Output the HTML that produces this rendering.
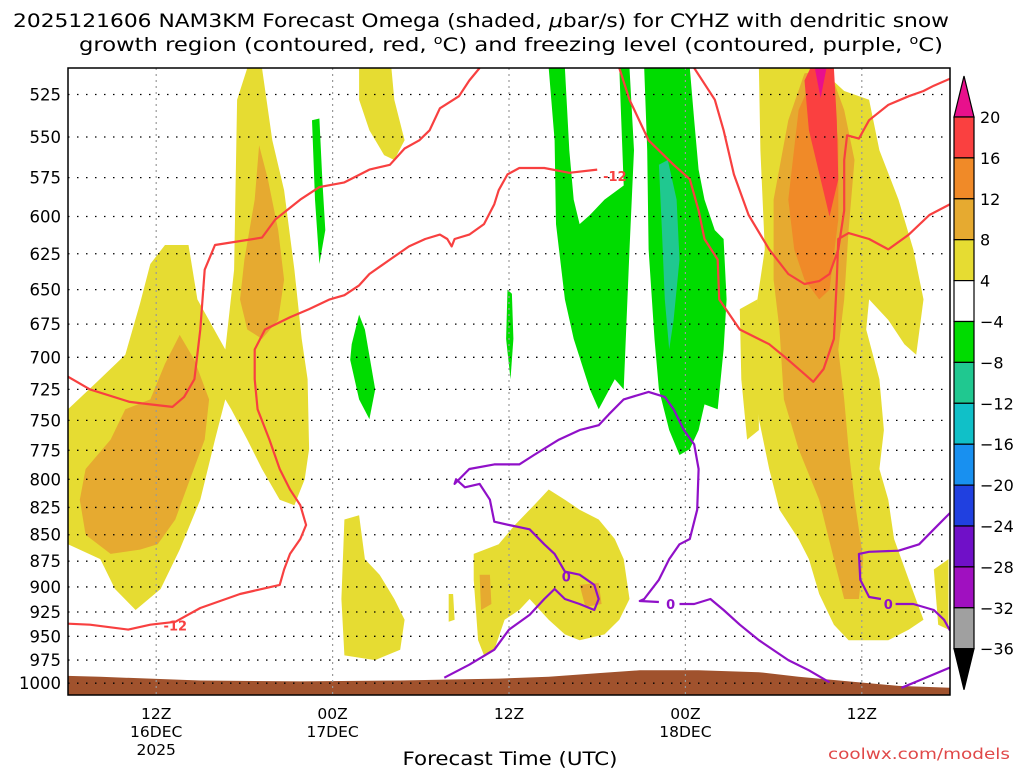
<!DOCTYPE html>
<html><head><meta charset="utf-8"><style>
html,body{margin:0;padding:0;background:#fff;}
body{width:1024px;height:768px;overflow:hidden;font-family:"DejaVu Sans","Liberation Sans",sans-serif;}
svg text{font-family:"DejaVu Sans","Liberation Sans",sans-serif;}
</style></head><body>
<svg id="chart" width="1024" height="768" xmlns="http://www.w3.org/2000/svg">
<text x="481" y="27" font-size="19" text-anchor="middle" textLength="936" lengthAdjust="spacingAndGlyphs">2025121606 NAM3KM Forecast Omega (shaded, <tspan font-style="italic">μ</tspan>bar/s) for CYHZ with dendritic snow</text>
<text x="511" y="51" font-size="19" text-anchor="middle" textLength="864" lengthAdjust="spacingAndGlyphs">growth region (contoured, red, <tspan font-size="12" dy="-7">o</tspan><tspan dy="7">C) and freezing level (contoured, purple, </tspan><tspan font-size="12" dy="-7">o</tspan><tspan dy="7">C)</tspan></text>
<defs><clipPath id="plotclip"><rect x="68" y="68" width="882" height="627"/></clipPath></defs>
<g id="fills" clip-path="url(#plotclip)"></g>
<g id="grid"></g>
<g id="contours" clip-path="url(#plotclip)"></g>
<rect x="68" y="68" width="882" height="627" fill="none" stroke="#000" stroke-width="1.5"/>
<g id="yaxis"></g>
<g id="xaxis"></g>
<text x="510" y="765" font-size="19" text-anchor="middle" textLength="215" lengthAdjust="spacingAndGlyphs">Forecast Time (UTC)</text>
<text x="1010" y="759" font-size="15" fill="#e04848" text-anchor="end" textLength="182" lengthAdjust="spacingAndGlyphs">coolwx.com/models</text>
<g id="colorbar"></g>
</svg>
<script>
// axis domain
const hourDomain = [0, 60];
const presTicks = [525,550,575,600,625,650,675,700,725,750,775,800,825,850,875,900,925,950,975,1000];
const timeTickHours = [6, 18, 30, 42, 54];
const timeTickLine1 = ['12Z','00Z','12Z','00Z','12Z'];
const timeTickLine2 = ['16DEC','17DEC','','18DEC',''];
const timeTickLine3 = ['2025','','','',''];
const cbLevels = ['20','16','12','8','4','-4','-8','-12','-16','-20','-24','-28','-32','-36'];
const cbColors = ['#fa4040','#f08a28','#e6aa30','#e6dc32','#ffffff','#00dc00','#20c890','#10c0c8','#1890f0','#2040e0','#7010c8','#a010c0','#a0a0a0'];

// omega shaded regions: [hour, hPa]
const yellowLeft = [[0,741],[1.8,721],[3.9,698],[4.9,660],[5.6,632],[6.6,619],[8.2,619],[8.8,657],[10.7,694],[11.3,636],[11.5,528],[12.2,510],[13.2,510],[13.9,552],[14.7,583],[15.4,636],[15.9,686],[16.3,717],[16.4,774],[16.1,800],[15.4,823],[14.4,818],[13.2,791],[12.2,766],[11.1,741],[10.7,733],[10.0,766],[9.0,818],[7.6,864],[6.3,902],[4.6,923],[3.2,902],[2.2,873],[0,859]];
const orangeLeftA = [[1.2,791],[2.9,766],[3.9,741],[5.6,733],[6.6,705],[7.6,683],[8.6,702],[9.6,733],[9.3,766],[8.3,800],[7.3,836],[6.1,859],[4.9,864],[2.9,868],[1.2,850],[0.8,818]];
const orangeLeftB = [[12.0,629],[12.7,589],[13.0,555],[13.6,576],[14.3,609],[14.7,643],[14.3,672],[13.2,686],[12.2,679],[11.7,657]];
const yellowTop = [[19.8,510],[22,510],[22.2,528],[22.9,552],[22.2,564],[21.5,561],[20.5,546],[19.8,528]];
const yellowMidA = [[18.8,836],[19.8,832],[20.2,873],[21.2,888],[22.2,912],[22.9,933],[22.6,964],[20.9,975],[18.8,970],[18.6,912]];
const yellowMidB = [[25.9,907],[26.2,907],[26.3,933],[25.9,935]];
const yellowMidC = [[27.6,868],[29.3,859],[30.4,841],[31.7,823],[32.7,809],[33.8,818],[34.8,827],[36.1,836],[37.2,854],[37.8,873],[38.2,912],[37.5,933],[36.5,948],[34.8,954],[33.8,948],[32.7,933],[31.4,912],[30.7,923],[29.7,933],[29,964],[28.3,970],[27.9,954],[27.6,893]];
const orangeMidA = [[28,888],[28.7,888],[28.8,917],[28.1,923]];
const orangeMidB = [[34.8,898],[36.1,896],[36.3,917],[35.2,920]];
const yellowRight = [[47,510],[51.1,510],[52.8,523],[54.5,528],[55.2,558],[56.5,589],[57.5,622],[58.2,657],[57.7,698],[56.9,690],[55.8,672],[54.5,657],[54.3,679],[55.2,717],[55.5,758],[55.2,791],[55.8,818],[56.2,854],[57.2,893],[58.2,933],[57.2,943],[55.8,954],[53.1,954],[52.1,938],[51.1,907],[50.4,873],[49.7,854],[48.4,827],[47.7,791],[47,749],[46.7,702],[46.9,657],[47.4,622],[47.1,558]];
const yellowRightB = [[45.7,664],[46.9,657],[47,758],[46.2,766],[45.8,717]];
const yellowRightC = [[58.9,883],[59.9,873],[59.9,943],[59.2,938]];
const orangeRight = [[48,589],[49,540],[50.1,513],[51.8,511],[52.8,534],[53.5,564],[53.1,609],[52.8,657],[52.4,694],[52.8,733],[53.1,774],[53.5,818],[54.1,873],[53.8,912],[52.8,912],[52.1,873],[51.1,818],[49.7,774],[48.7,733],[48.4,679],[48,643]];
const darkOrangeRight = [[49,589],[49.7,534],[50.7,515],[51.8,517],[52.4,552],[52.4,602],[51.8,650],[51.1,657],[50.1,643],[49.4,622]];
const redRight = [[50.1,517],[50.5,510],[52.1,510],[52.3,540],[52.4,576],[51.8,600],[51.2,576],[50.4,546]];
const magentaRight = [[50.8,510],[51.6,510],[51.2,527]];
const greenA = [[16.6,540],[17.1,539],[17.3,576],[17.5,609],[17.1,632],[16.8,589]];
const greenB = [[19.3,690],[19.8,668],[20.2,679],[20.9,725],[20.5,749],[19.8,733],[19.2,702]];
const greenC = [[29.9,650],[30.2,653],[30.3,686],[30.1,717],[29.8,686]];
const greenD = [[32.7,510],[33.8,510],[34.1,558],[34.4,589],[34.8,605],[35.5,599],[36.5,589],[37.8,580],[37.5,510],[38.2,510],[38.5,558],[38.2,622],[37.8,725],[37.2,717],[36.1,741],[35.5,725],[34.4,686],[33.8,657],[33.2,605],[33.1,552]];
const greenE = [[39.2,510],[42.3,510],[42.6,540],[42.9,570],[43.3,589],[44,609],[44.6,615],[44.8,657],[44.6,694],[44.2,741],[43.3,737],[42.9,758],[42.3,774],[41.6,779],[40.9,758],[40.2,725],[39.9,686],[39.5,622],[39.4,558]];
const tealE = [[40.2,567],[40.8,564],[41.4,589],[41.6,629],[41.2,672],[40.9,694],[40.6,657],[40.4,609]];

// surface pressure (terrain)
const sfcHours = [0,2.2,9,15.8,22.6,26,29.3,32.7,36.1,38.9,42.9,47,49.7,53.1,56.5,60];
const sfcPres = [992,993,997,998,997,996,995,993,989,986,986,988,993,998,1003,1005];

// dendritic growth (-12/-18 C) contours
const redLine1 = [[0,715],[1.5,725],[4.2,735],[5.6,737],[7.1,739],[7.9,731],[8.6,717],[9,679],[9.3,636],[10,619],[11.3,617],[13.2,614],[14.1,602],[15.8,589],[17.1,581],[18.8,578],[20.5,570],[21.9,567],[22.9,557],[23.9,552],[24.6,546],[25.3,533],[26.6,526],[27.3,517],[28,510]];
const redLine2 = [[0,937],[1.5,938],[4.1,943],[5.6,938],[7.3,935],[9,921],[11.7,907],[14.4,898],[14.7,883],[15.1,868],[15.8,854],[16.2,841],[15.8,823],[15.1,809],[14.4,791],[13.7,766],[12.9,741],[12.7,717],[12.7,694],[13.4,679],[15.1,670],[16.4,664],[17.8,657],[18.8,654],[19.8,647],[20.5,639],[21.9,629],[23.2,620],[24.3,615],[25.3,612],[25.8,615],[26.1,620],[26.3,615],[27.3,612],[28.3,605],[29,592],[29.3,583],[29.9,573],[30.7,569],[32.4,569],[34.1,572],[36,570]];
const redLine3 = [[42.6,510],[44,528],[44.6,546],[45.3,573],[46.3,599],[47.7,622],[49,639],[50.1,646],[51.1,644],[51.8,639],[52.4,622],[52.8,596],[52.8,564],[53,549],[53.8,551],[54.5,540],[55.8,531],[57.2,526],[58.2,523],[58.9,520],[60,516]];
const redLine4 = [[37.5,510],[38.2,528],[39.5,552],[41.2,567],[42.3,576],[42.9,596],[43.3,615],[44.2,629],[44.3,657],[45.7,679],[47.7,690],[49,702],[50.1,713],[50.7,719],[51.4,709],[52.1,686],[52.3,643],[52.4,615],[53.1,611],[54.5,615],[55.8,622],[57.2,612],[58.6,599],[60,592]];
const redLabels = [[37.2,574,'-12'],[7.3,939,'-12']];

// freezing level (0 C) contours
const purpleLine1 = [[25.6,994],[27.3,980],[29,964],[30,943],[31.4,928],[32.4,912],[33.1,902],[33.8,912],[34.8,917],[35.8,923],[36.1,912],[35.8,898],[34.8,888],[33.8,885],[33.1,868],[32.4,859],[31.4,845],[30,841],[29,838],[28.7,818],[28,804],[27,807],[26.4,800],[26.3,804],[27.3,791],[29,787],[30.7,787],[31.7,779],[33.4,766],[34.8,758],[36.1,754],[36.8,745],[37.8,733],[39.5,727],[40.6,731],[41.2,741],[41.9,758],[42.6,770],[42.9,791],[42.8,827],[42.3,854],[41.6,859],[40.9,873],[40.2,893],[39.2,912],[38.9,914],[40.2,915]];
const purpleLine2 = [[41.6,917],[42.6,917],[43.7,912],[44.6,923],[45.7,938],[47,954],[49,975],[50.4,986],[51.8,999]];
const purpleLine3 = [[56.7,1005],[57.9,997],[60,983]];
const purpleLine4 = [[55.3,912],[54.5,910],[53.9,893],[53.8,868],[54.5,866],[56.5,865],[57.9,859],[58.9,845],[60,830]];
const purpleLine5 = [[56.3,917],[57.5,917],[58.9,923],[59.6,933],[60,944]];
const purpleLabels = [[33.9,890,'0'],[41.0,917,'0'],[55.8,917,'0']];

const X0=68, X1=950, PTOP=510, PBOT=1013, Y0=68, Y1=695;
function xs(h){ return X0 + (h-hourDomain[0])/(hourDomain[1]-hourDomain[0])*(X1-X0); }
function ys(p){ return Y0 + Math.log(p/PTOP)/Math.log(PBOT/PTOP)*(Y1-Y0); }
const NS='http://www.w3.org/2000/svg';
function mk(tag, attrs, parent){ const e=document.createElementNS(NS,tag); for(const k in attrs) e.setAttribute(k,attrs[k]); parent.appendChild(e); return e; }
function pts(arr){ return arr.map(d=>xs(d[0]).toFixed(1)+','+ys(d[1]).toFixed(1)).join(' '); }

const fills=document.getElementById('fills');
const shapes=[
 [yellowLeft,'#e6dc32','yellow-region-left'],[orangeLeftA,'#e6aa30','orange-region-left'],[orangeLeftB,'#e6aa30','orange-region-column'],
 [yellowTop,'#e6dc32','yellow-region-top'],[yellowMidA,'#e6dc32','yellow-region-mid-a'],[yellowMidB,'#e6dc32','yellow-region-mid-b'],[yellowMidC,'#e6dc32','yellow-region-mid-c'],
 [orangeMidA,'#e6aa30','orange-region-mid-a'],[orangeMidB,'#e6aa30','orange-region-mid-b'],
 [yellowRight,'#e6dc32','yellow-region-right'],[yellowRightB,'#e6dc32','yellow-region-right-b'],[yellowRightC,'#e6dc32','yellow-region-right-c'],
 [orangeRight,'#e6aa30','orange-region-right'],[darkOrangeRight,'#f08a28','dark-orange-region-right'],[redRight,'#fa4040','red-region-right'],[magentaRight,'#e8108c','magenta-region-right'],
 [greenA,'#00dc00','green-region-a'],[greenB,'#00dc00','green-region-b'],[greenC,'#00dc00','green-region-c'],[greenD,'#00dc00','green-region-d'],[greenE,'#00dc00','green-region-e'],[tealE,'#20c890','teal-region-e']
];
shapes.forEach(s=>{
 const e=mk('polygon',{points:pts(s[0]),fill:s[1]},fills);
 
 
});
// ground
const groundPts = sfcHours.map((h,i)=>[h,sfcPres[i]]).concat([[60,PBOT],[0,PBOT]]);
const gr=mk('polygon',{points:pts(groundPts),fill:'#a0522d'},fills);



// grid + y axis
const grid=document.getElementById('grid'), yax=document.getElementById('yaxis');
presTicks.forEach(p=>{
 const y=ys(p);
 const l=mk('line',{x1:X0,x2:X1,y1:y,y2:y,stroke:'#000','stroke-width':1.3,'stroke-dasharray':'1.5,7.5'},grid);
 
 
 const t=mk('text',{x:61,y:y+6,'font-size':16.5,'text-anchor':'end'},yax);
 t.textContent=p;
 
 
});
const xax=document.getElementById('xaxis');
timeTickHours.forEach((h,i)=>{
 const x=xs(h);
 const l=mk('line',{x1:x,x2:x,y1:Y0,y2:Y1,stroke:'#999','stroke-width':1.2,'stroke-dasharray':'2,4'},grid);
 
 
 [timeTickLine1[i],timeTickLine2[i],timeTickLine3[i]].forEach((s,j)=>{
  if(!s) return;
  const t=mk('text',{x:x,y:719+j*18,'font-size':15.5,'text-anchor':'middle'},xax);
  t.textContent=s;
  
  
 });
});

// contours
const cont=document.getElementById('contours');
[[redLine1,'dgz-contour-1'],[redLine2,'dgz-contour-2'],[redLine3,'dgz-contour-3'],[redLine4,'dgz-contour-4']].forEach(c=>{
 const e=mk('polyline',{points:pts(c[0]),fill:'none',stroke:'#f84040','stroke-width':2.2,'stroke-linejoin':'round'},cont);
 
 
});
[[purpleLine1,'freezing-contour-1'],[purpleLine2,'freezing-contour-2'],[purpleLine3,'freezing-contour-3'],[purpleLine4,'freezing-contour-4'],[purpleLine5,'freezing-contour-5']].forEach(c=>{
 const e=mk('polyline',{points:pts(c[0]),fill:'none',stroke:'#9010c8','stroke-width':2.2,'stroke-linejoin':'round'},cont);
 
 
});
redLabels.forEach(d=>{
 const t=mk('text',{x:xs(d[0]),y:ys(d[1])+5,'font-size':13,'font-weight':'bold',fill:'#f84040','text-anchor':'middle'},cont);
 t.textContent=d[2];
 
 
});
purpleLabels.forEach(d=>{
 const t=mk('text',{x:xs(d[0]),y:ys(d[1])+5,'font-size':13,'font-weight':'bold',fill:'#9010c8','text-anchor':'middle'},cont);
 t.textContent=d[2];
 
 
});

// colorbar
const cb=document.getElementById('colorbar');
const cbX=954, cbW=20, cbTop=117, cbStep=40.9;
const up=mk('polygon',{points:`${cbX},${cbTop} ${cbX+cbW},${cbTop} ${cbX+cbW/2},${cbTop-41}`,fill:'#e8108c',stroke:'#000','stroke-width':1.2},cb);


cbColors.forEach((c,i)=>{
 const r=mk('rect',{x:cbX,y:cbTop+i*cbStep,width:cbW,height:cbStep,fill:c,stroke:'#000','stroke-width':1.2},cb);
 
 
});
const bot=cbTop+cbColors.length*cbStep;
const dn=mk('polygon',{points:`${cbX},${bot} ${cbX+cbW},${bot} ${cbX+cbW/2},${bot+41}`,fill:'#000',stroke:'#000','stroke-width':1.2},cb);


cbLevels.forEach((s,i)=>{
 const t=mk('text',{x:980,y:cbTop+i*cbStep+6,'font-size':16},cb);
 t.textContent=s.replace('-','\u2212');
 
 
});
</script>
</body></html>
